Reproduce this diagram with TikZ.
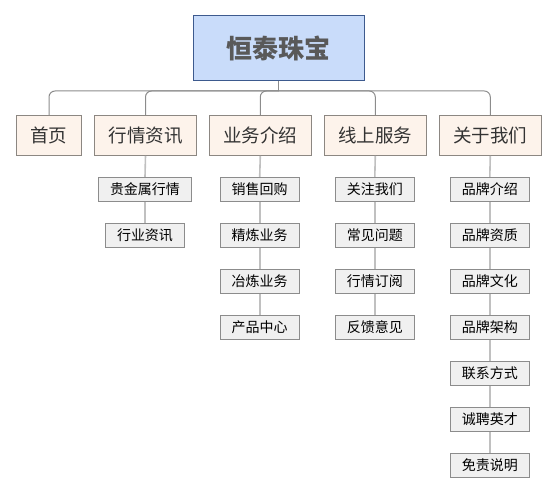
\documentclass[tikz,border=0pt]{standalone}
\usepackage{fontspec}
\setmainfont{Noto Sans CJK SC}
\definecolor{rootfill}{HTML}{C9DCFA}
\definecolor{rootdraw}{HTML}{3D5A8E}
\definecolor{topfill}{HTML}{FDF3EB}
\definecolor{topdraw}{HTML}{8C8782}
\definecolor{subfill}{HTML}{F0F0F0}
\definecolor{subdraw}{HTML}{8C8C8C}
\definecolor{busline}{HTML}{8C8C8C}
\definecolor{subline}{HTML}{C0C0C0}
\tikzset{
  rootbox/.style={draw=rootdraw,fill=rootfill,line width=1pt,minimum width=171pt,minimum height=65pt,inner sep=0pt,text=black!65,font=\fontsize{26}{30}\selectfont\bfseries},
  topbox/.style={draw=topdraw,fill=topfill,line width=1pt,minimum width=102pt,minimum height=40pt,inner sep=0pt,text=black!80,font=\fontsize{18.5}{22}\selectfont},
  subbox/.style={draw=subdraw,fill=subfill,line width=1pt,minimum width=79pt,minimum height=24pt,inner sep=0pt,text=black,font=\fontsize{14}{16}\selectfont},
  busedge/.style={draw=busline,line width=1pt,rounded corners=6pt},
  subedge/.style={draw=subline,line width=1.6pt},
}
\begin{document}
\begin{tikzpicture}[x=1pt,y=-1pt]
\useasboundingbox (0,0) rectangle (558,494);
% connectors first
\coordinate (bus) at (278.8,91);
% nodes
\node[rootbox] (root) at (278.8,48.5) {恒泰珠宝};
\node[topbox,minimum width=65.4pt] (t1) at (49,135.3) {首页};
\node[topbox] (t2) at (145.5,135.3) {行情资讯};
\node[topbox] (t3) at (260.3,135.3) {业务介绍};
\node[topbox] (t4) at (375.3,135.3) {线上服务};
\node[topbox] (t5) at (490.3,135.3) {关于我们};
% sub nodes
\node[subbox,minimum width=93.4pt] (a1) at (145,189.3) {贵金属行情};
\node[subbox] (a2) at (145,235.3) {行业资讯};
\node[subbox] (b1) at (259.7,189.3) {销售回购};
\node[subbox] (b2) at (259.7,235.3) {精炼业务};
\node[subbox] (b3) at (259.7,281.3) {冶炼业务};
\node[subbox] (b4) at (259.7,327.3) {产品中心};
\node[subbox] (c1) at (374.8,189.3) {关注我们};
\node[subbox] (c2) at (374.8,235.3) {常见问题};
\node[subbox] (c3) at (374.8,281.3) {行情订阅};
\node[subbox] (c4) at (374.8,327.3) {反馈意见};
\node[subbox] (d1) at (489.8,189.3) {品牌介绍};
\node[subbox] (d2) at (489.8,235.3) {品牌资质};
\node[subbox] (d3) at (489.8,281.3) {品牌文化};
\node[subbox] (d4) at (489.8,327.3) {品牌架构};
\node[subbox] (d5) at (489.8,373.3) {联系方式};
\node[subbox] (d6) at (489.8,419.3) {诚聘英才};
\node[subbox] (d7) at (489.8,465.3) {免责说明};
% bus connectors
\draw[busedge] (root.south) -- (bus);
\foreach \t in {t1,t2,t3,t4,t5}{
  \draw[busedge] (bus) -| (\t.north);
}
% sub connectors
\draw[subedge] (t2.south) -- (a1.north);
\draw[subedge] (a1.south) -- (a2.north);
\draw[subedge] (t3.south) -- (b1.north);
\draw[subedge] (b1.south) -- (b2.north);
\draw[subedge] (b2.south) -- (b3.north);
\draw[subedge] (b3.south) -- (b4.north);
\draw[subedge] (t4.south) -- (c1.north);
\draw[subedge] (c1.south) -- (c2.north);
\draw[subedge] (c2.south) -- (c3.north);
\draw[subedge] (c3.south) -- (c4.north);
\draw[subedge] (t5.south) -- (d1.north);
\draw[subedge] (d1.south) -- (d2.north);
\draw[subedge] (d2.south) -- (d3.north);
\draw[subedge] (d3.south) -- (d4.north);
\draw[subedge] (d4.south) -- (d5.north);
\draw[subedge] (d5.south) -- (d6.north);
\draw[subedge] (d6.south) -- (d7.north);
\end{tikzpicture}
\end{document}
